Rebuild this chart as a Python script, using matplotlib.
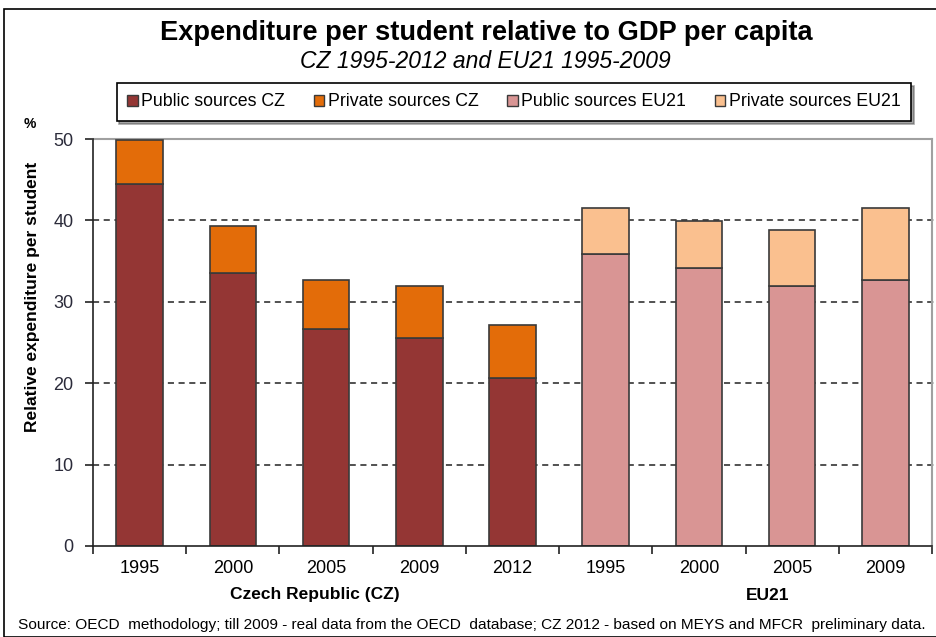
import matplotlib
matplotlib.use("Agg")
import matplotlib.pyplot as plt
from matplotlib.patches import Rectangle, Patch
import numpy as np

plt.rcParams['font.family'] = ['Liberation Sans', 'DejaVu Sans']

years = ['1995', '2000', '2005', '2009', '2012', '1995', '2000', '2005', '2009']
cz_public = [44.5, 33.5, 26.7, 25.6, 20.6]
cz_private = [5.4, 5.8, 6.0, 6.3, 6.5]
eu_public = [35.9, 34.2, 31.9, 32.7]
eu_private = [5.6, 5.7, 6.9, 8.8]
groups = ['Czech Republic (CZ)', 'EU21']
legend_labels = ['Public sources CZ', 'Private sources CZ', 'Public sources EU21', 'Private sources EU21']
colors = ['#943634', '#E36C09', '#D99594', '#FAC08F']

fig = plt.figure(figsize=(9.37, 6.37), dpi=100)
ax = fig.add_axes([93/937, 91/637, 839/937, 407/637])

n_cz = len(cz_public)
x_cz = np.arange(n_cz)
x_eu = np.arange(len(eu_public)) + n_cz
w = 0.5
ec = '#3a3a3a'
ax.bar(x_cz, cz_public, w, color=colors[0], edgecolor=ec, linewidth=1.2, zorder=3)
ax.bar(x_cz, cz_private, w, bottom=cz_public, color=colors[1], edgecolor=ec, linewidth=1.2, zorder=3)
ax.bar(x_eu, eu_public, w, color=colors[2], edgecolor=ec, linewidth=1.2, zorder=3)
ax.bar(x_eu, eu_private, w, bottom=eu_public, color=colors[3], edgecolor=ec, linewidth=1.2, zorder=3)

ntot = len(years)
ax.set_xlim(-0.5, ntot - 0.5)
ax.set_ylim(0, 50)
ax.set_yticks([0, 10, 20, 30, 40, 50])
for yv in [10, 20, 30, 40]:
    ax.axhline(yv, linestyle=(0, (4, 3)), color='#222222', linewidth=1.1, zorder=0, clip_on=False,
               xmax=1.006)
ax.set_xticks(np.arange(ntot))
ax.set_xticklabels(years, fontsize=13)
ax.tick_params(axis='x', which='major', length=0, pad=10)
ax.set_xticks(np.arange(ntot + 1) - 0.5, minor=True)
ax.tick_params(axis='x', which='minor', length=6, width=1.2, direction='out', color='#222222')
ax.tick_params(axis='y', length=6, width=1.2, direction='out', labelsize=13, pad=8,
               color='#222222', labelcolor='#2b2b3a')
for s in ['top', 'right']:
    ax.spines[s].set_color('#a0a0a0')
    ax.spines[s].set_linewidth(1.5)
for s in ['left', 'bottom']:
    ax.spines[s].set_linewidth(1.2)
    ax.spines[s].set_color('#222222')
    ax.spines[s].set_zorder(4)

fig.text(33/937, 1 - 297/637, 'Relative expenditure per student', rotation=90, ha='center', va='center',
         fontsize=12.5, fontweight='bold')

fig.text(30/937, 1 - 124/637, '%', fontsize=10, fontweight='bold', ha='center', va='center')

# group labels
for gx, g in zip([315, 768], groups):
    fig.text(gx/937, 1 - 595/637, g, ha='center', va='center', fontsize=12.5, fontweight='bold')

fig.text(486/937, 1 - 33/637, 'Expenditure per student relative to GDP per capita', ha='center', va='center',
         fontsize=19.6, fontweight='bold')
fig.text(485/937, 1 - 62/637, 'CZ 1995-2012 and EU21 1995-2009', ha='center', va='center',
         fontsize=16.5, style='italic')

handles = [Patch(facecolor=c, edgecolor=ec, linewidth=1) for c in colors]
leg = fig.legend(handles, legend_labels, loc='center', bbox_to_anchor=(514/937, 1 - 102/637), ncol=4,
                 fontsize=12.8, frameon=True, fancybox=False, shadow=True, handlelength=0.6,
                 handleheight=0.6, handletextpad=0.2, columnspacing=1.6, borderpad=0.6)
leg.get_frame().set_edgecolor('black')
leg.get_frame().set_linewidth(1.2)

fig.text(18/937, 1 - 625/637,
         'Source: OECD  methodology; till 2009 - real data from the OECD  database; CZ 2012 - based on MEYS and MFCR  preliminary data.',
         ha='left', va='center', fontsize=11.1)

fig.patches.append(Rectangle((4/937, 0), 1, 1 - 9/637, transform=fig.transFigure, fill=False,
                             edgecolor='black', linewidth=1.2))

fig.savefig('out.png', dpi=100)
